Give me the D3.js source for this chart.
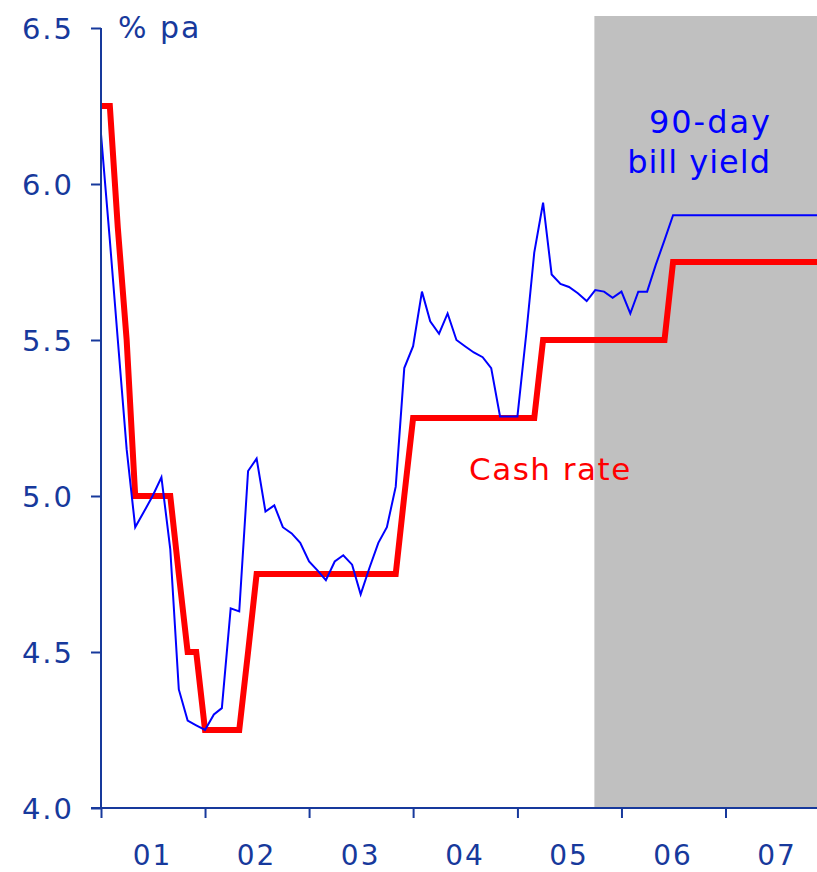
<!DOCTYPE html>
<html>
<head>
<meta charset="utf-8">
<script src="https://cdn.jsdelivr.net/npm/d3@7"></script>
<style>
  html, body { margin: 0; padding: 0; background: #ffffff; }
  svg { display: block; }
  text { font-family: "DejaVu Sans", Verdana, sans-serif; }
</style>
</head>
<body>
<svg id="chart" width="817" height="872"></svg>
<script>
// Monthly series, January 2001 onwards (% pa)
const cashRate = [
  6.25, 6.25, 5.86, 5.50, 5.00, 5.00, 5.00, 5.00, 5.00, 4.75, 4.50, 4.50,
  4.25, 4.25, 4.25, 4.25, 4.25, 4.50, 4.75, 4.75, 4.75, 4.75, 4.75, 4.75,
  4.75, 4.75, 4.75, 4.75, 4.75, 4.75, 4.75, 4.75, 4.75, 4.75, 4.75, 5.00,
  5.25, 5.25, 5.25, 5.25, 5.25, 5.25, 5.25, 5.25, 5.25, 5.25, 5.25, 5.25,
  5.25, 5.25, 5.25, 5.50, 5.50, 5.50, 5.50, 5.50, 5.50, 5.50, 5.50, 5.50,
  5.50, 5.50, 5.50, 5.50, 5.50, 5.50, 5.75, 5.75, 5.75, 5.75, 5.75, 5.75,
  5.75, 5.75, 5.75, 5.75, 5.75, 5.75, 5.75, 5.75, 5.75, 5.75, 5.75, 5.75
];
const billYield = [
  6.16, 5.82, 5.50, 5.15, 4.90, 4.95, 5.00, 5.06, 4.83, 4.38, 4.28, 4.265,
  4.25, 4.30, 4.32, 4.64, 4.63, 5.08, 5.12, 4.95, 4.97, 4.90, 4.88, 4.85,
  4.79, 4.76, 4.73, 4.79, 4.81, 4.78, 4.685, 4.77, 4.85, 4.90, 5.03, 5.41,
  5.48, 5.655, 5.56, 5.52, 5.585, 5.50, 5.48, 5.46, 5.445, 5.41, 5.255, 5.255,
  5.255, 5.52, 5.78, 5.94, 5.71, 5.68, 5.67, 5.65, 5.625, 5.66, 5.655, 5.635,
  5.655, 5.585, 5.655, 5.655, 5.74, 5.82, 5.90, 5.90, 5.90, 5.90, 5.90, 5.90,
  5.90, 5.90, 5.90, 5.90, 5.90, 5.90, 5.90, 5.90, 5.90, 5.90, 5.90, 5.90
];
const yTicks = [4.0, 4.5, 5.0, 5.5, 6.0, 6.5];
const yearLabels = ["01", "02", "03", "04", "05", "06", "07"];
const seriesStart = new Date(2001, 0, 1);
const axisEnd = new Date(2007, 10, 18);
const forecastStart = new Date(2005, 8, 28);

const axisColor = "#17399c";
const svg = d3.select("#chart");
const margin = { left: 101, right: 0, top: 28, bottom: 64 };
const W = 817, H = 872;

const months = cashRate.map((_, i) => d3.timeMonth.offset(seriesStart, i));

const x = d3.scaleTime()
  .domain([seriesStart, axisEnd])
  .range([margin.left, W - margin.right]);
const y = d3.scaleLinear()
  .domain([4.0, 6.5])
  .range([H - margin.bottom, margin.top]);

svg.append("defs").append("clipPath").attr("id", "plotClip")
  .append("rect")
  .attr("x", margin.left).attr("y", 0)
  .attr("width", W - margin.left).attr("height", y(4.0));

// Forecast period shading
svg.append("rect")
  .attr("x", x(forecastStart))
  .attr("y", y(6.5) - 12)
  .attr("width", W - x(forecastStart))
  .attr("height", y(4.0) - y(6.5) + 12)
  .attr("fill", "#c0c0c0");

const plot = svg.append("g").attr("clip-path", "url(#plotClip)");

const line = vals => d3.line()
  .x((d, i) => x(months[i]))
  .y(d => y(d))(vals);

plot.append("path")
  .attr("d", line(cashRate))
  .attr("fill", "none")
  .attr("stroke", "#ff0000")
  .attr("stroke-width", 6)
  .attr("stroke-linejoin", "miter")
  .attr("stroke-linecap", "square");

plot.append("path")
  .attr("d", line(billYield))
  .attr("fill", "none")
  .attr("stroke", "#0000ff")
  .attr("stroke-width", 2)
  .attr("stroke-linejoin", "miter");

// Y axis
const yAxis = d3.axisLeft(y)
  .tickValues(yTicks)
  .tickFormat(d3.format(".1f"))
  .tickSize(10)
  .tickPadding(17);
const gy = svg.append("g")
  .attr("transform", `translate(${margin.left},0)`)
  .call(yAxis);
gy.select(".domain").remove();
gy.append("line")
  .attr("x1", 0).attr("x2", 0)
  .attr("y1", y(6.5)).attr("y2", y(4.0))
  .attr("stroke", axisColor).attr("stroke-width", 2);
gy.selectAll(".tick line").attr("stroke", axisColor).attr("stroke-width", 2);
gy.selectAll(".tick text")
  .attr("fill", axisColor)
  .attr("font-size", 29)
  .attr("letter-spacing", 2)
  .attr("dy", "0.36em")
  .style("font-family", "'DejaVu Sans', Verdana, sans-serif");

// X axis: year boundaries as ticks, labels centred within each year
const years = d3.timeYear.range(seriesStart, axisEnd);
const xAxis = d3.axisBottom(x)
  .tickValues(years)
  .tickFormat("")
  .tickSize(10);
const gx = svg.append("g")
  .attr("transform", `translate(0,${y(4.0)})`)
  .call(xAxis);
gx.select(".domain").remove();
gx.append("line")
  .attr("x1", margin.left - 10).attr("x2", W)
  .attr("y1", 0).attr("y2", 0)
  .attr("stroke", axisColor).attr("stroke-width", 2);
gx.selectAll(".tick line").attr("stroke", axisColor).attr("stroke-width", 2);

svg.append("g").selectAll("text")
  .data(years)
  .join("text")
  .attr("x", d => x(d3.timeMonth.offset(d, 6)))
  .attr("y", H - 7)
  .attr("text-anchor", "middle")
  .attr("fill", axisColor)
  .attr("font-size", 28)
  .attr("letter-spacing", 2)
  .text((d, i) => yearLabels[i]);

// Unit label
svg.append("text")
  .attr("x", 118).attr("y", 38)
  .attr("fill", axisColor)
  .attr("font-size", 30)
  .attr("letter-spacing", 2)
  .text("% pa");

// Series labels
const billLabel = svg.append("text")
  .attr("fill", "#0000ff")
  .attr("font-size", 32)
  .attr("text-anchor", "end");
billLabel.append("tspan").attr("x", 772).attr("y", 133)
  .attr("letter-spacing", 2).text("90-day");
billLabel.append("tspan").attr("x", 771).attr("y", 173)
  .attr("letter-spacing", 1).text("bill yield");

svg.append("text")
  .attr("x", 469).attr("y", 480)
  .attr("fill", "#ff0000")
  .attr("font-size", 31)
  .attr("letter-spacing", 1.5)
  .text("Cash rate");
</script>
</body>
</html>
